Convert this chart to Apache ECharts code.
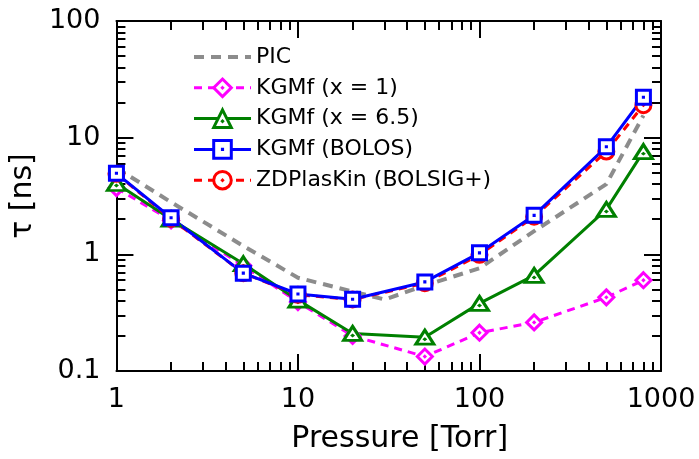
<!DOCTYPE html>
<html><head><meta charset="utf-8">
<script src="https://cdn.jsdelivr.net/npm/echarts@6/dist/echarts.min.js"></script>
<style>html,body{margin:0;padding:0;background:#fff}#c{width:699px;height:459px}</style>
</head><body><div id="c"></div>
<script>
// ---- data ----
const pressure = [1, 2, 5, 10, 20, 50, 100, 200, 500, 800];
const picPressure = [1, 2, 5, 10, 20, 30, 50, 100, 200, 500, 800];
const picTau = [5.5, 2.8, 1.18, 0.63, 0.48, 0.41, 0.54, 0.76, 1.58, 4.0, 15.5];
const kgmfX1 = [3.7, 1.95, 0.8, 0.39, 0.2, 0.133, 0.213, 0.261, 0.428, 0.60];
const kgmfX65 = [4.05, 2.0, 0.83, 0.405, 0.21, 0.195, 0.38, 0.66, 2.43, 7.6];
const kgmfBolos = [4.95, 2.06, 0.69, 0.457, 0.412, 0.58, 1.03, 2.16, 8.35, 22.2];
const zdplaskin = [4.9, 2.02, 0.69, 0.45, 0.41, 0.565, 0.99, 2.1, 7.6, 19.0];
const seriesNames = ['PIC', 'KGMf (x = 1)', 'KGMf (x = 6.5)', 'KGMf (BOLOS)', 'ZDPlasKin (BOLSIG+)'];
const xMajor = [1, 10, 100, 1000];
const xMinor = [2, 3, 4, 5, 6, 7, 8, 9, 20, 30, 40, 50, 60, 70, 80, 90, 200, 300, 400, 500, 600, 700, 800, 900];
const yMajor = [0.1, 1, 10, 100];
const yMinor = [0.2, 0.3, 0.4, 0.5, 0.6, 0.7, 0.8, 0.9, 2, 3, 4, 5, 6, 7, 8, 9, 20, 30, 40, 50, 60, 70, 80, 90];
const xTitle = 'Pressure [Torr]';
const yTitle = 'τ [ns]';

// ---- styling ----
const FONT = 'DejaVu Sans';
const pairs = (xs, ys) => xs.map((x, i) => [x, ys[i]]);
const SYM = {
  diamond: 'path://M50 0L100 50L50 100L0 50ZM50 49.5L50.5 50L50 50.5L49.5 50Z',
  triangle: 'path://M50 0L100 100L0 100ZM50 64.5L50.5 65L50 65.5L49.5 65Z',
  square: 'path://M0 0L100 0L100 100L0 100ZM49.5 49.5L50.5 49.5L50.5 50.5L49.5 50.5Z',
  circle: 'path://M50 0A50 50 0 1 1 50 100A50 50 0 1 1 50 0ZM49.5 50L50 49.5L50.5 50L50 50.5Z'
};
const fmt = v => String(v);

function xAx(position, ticks, len, showLine, showLabel, extra) {
  return Object.assign({
    type: 'log', logBase: 10, min: 1, max: 1000, position: position, gridIndex: 0,
    axisLine: { show: showLine, lineStyle: { color: '#000', width: 2 } },
    axisTick: { show: true, inside: true, length: len, customValues: ticks, lineStyle: { color: '#000', width: 2 } },
    axisLabel: showLabel ? { show: true, customValues: ticks, formatter: fmt, margin: 15, color: '#000', fontFamily: FONT, fontSize: 27 } : { show: false },
    splitLine: { show: false }, minorTick: { show: false }
  }, extra || {});
}
function yAx(position, ticks, len, showLine, showLabel, extra) {
  return Object.assign({
    type: 'log', logBase: 10, min: 0.1, max: 100, position: position, gridIndex: 0,
    axisLine: { show: showLine, lineStyle: { color: '#000', width: 2 } },
    axisTick: { show: true, inside: true, length: len, customValues: ticks, lineStyle: { color: '#000', width: 2 } },
    axisLabel: showLabel ? { show: true, customValues: ticks, formatter: fmt, margin: 16, color: '#000', fontFamily: FONT, fontSize: 27 } : { show: false },
    splitLine: { show: false }, minorTick: { show: false }
  }, extra || {});
}

const chart = echarts.init(document.getElementById('c'), null, { renderer: 'canvas' });
chart.setOption({
  animation: false,
  backgroundColor: '#fff',
  grid: { left: 107, right: 38, top: 21, bottom: 88, containLabel: false },
  legend: {
    orient: 'vertical', left: 192, top: 46, padding: 0,
    itemWidth: 57, itemHeight: 22, itemGap: 8.8,
    textStyle: { fontFamily: FONT, fontSize: 22, color: '#000' },
    itemStyle: { borderWidth: 3 },
    lineStyle: { width: 3 },
    data: [
      { name: seriesNames[0], lineStyle: { width: 4 }, itemStyle: { opacity: 0 } },
      { name: seriesNames[1] },
      { name: seriesNames[2] },
      { name: seriesNames[3] },
      { name: seriesNames[4] }
    ]
  },
  xAxis: [
    xAx('bottom', xMajor, 17, true, true, {
      name: xTitle, nameLocation: 'middle', nameGap: 53,
      nameTextStyle: { fontFamily: FONT, fontSize: 30, color: '#000', padding: [0, 0, 0, 22] }
    }),
    xAx('bottom', xMinor, 9, false, false),
    xAx('top', xMajor, 17, true, false),
    xAx('top', xMinor, 9, false, false)
  ],
  yAxis: [
    yAx('left', yMajor, 17, true, true, {
      name: yTitle, nameLocation: 'middle', nameGap: 58,
      nameTextStyle: { fontFamily: FONT, fontSize: 30, color: '#000' }
    }),
    yAx('left', yMinor, 9, false, false),
    yAx('right', yMajor, 17, true, false),
    yAx('right', yMinor, 9, false, false)
  ],
  series: [
    {
      name: seriesNames[0], type: 'line', data: pairs(picPressure, picTau),
      symbol: 'circle', symbolSize: 1, showSymbol: false,
      lineStyle: { color: '#8c8c8c', width: 4, type: [10, 7] },
      itemStyle: { color: '#8c8c8c' }
    },
    {
      name: seriesNames[1], type: 'line', data: pairs(pressure, kgmfX1),
      symbol: SYM.diamond, symbolSize: 15,
      lineStyle: { color: '#ff00ff', width: 3, type: [8, 6] },
      itemStyle: { color: '#fff', borderColor: '#ff00ff', borderWidth: 3 }
    },
    {
      name: seriesNames[2], type: 'line', data: pairs(pressure, kgmfX65),
      symbol: SYM.triangle, symbolSize: [18, 14],
      lineStyle: { color: '#008000', width: 3 },
      itemStyle: { color: '#fff', borderColor: '#008000', borderWidth: 3 }
    },
    {
      name: seriesNames[4], type: 'line', data: pairs(pressure, zdplaskin),
      symbol: SYM.circle, symbolSize: 15,
      lineStyle: { color: '#ff0000', width: 3, type: [8, 6] },
      itemStyle: { color: '#fff', borderColor: '#ff0000', borderWidth: 3 }
    },
    {
      name: seriesNames[3], type: 'line', data: pairs(pressure, kgmfBolos),
      symbol: SYM.square, symbolSize: 14,
      lineStyle: { color: '#0000ff', width: 3 },
      itemStyle: { color: '#fff', borderColor: '#0000ff', borderWidth: 3 }
    }
  ]
});
</script></body></html>
